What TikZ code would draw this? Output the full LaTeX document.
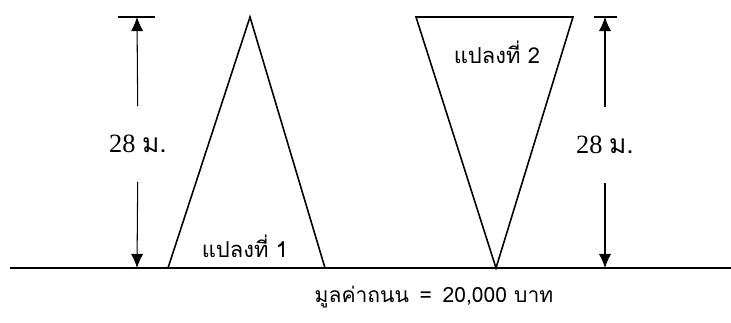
\documentclass[tikz,border=0pt]{standalone}
\usepackage{fontspec}
\setmainfont{Liberation Serif}
\newfontfamily\thaifont[Script=Thai]{Loma}
\usetikzlibrary{arrows.meta}
\tikzset{
    dimline/.style={-{Latex[length=8pt,width=7pt]}, semithick},
    plot/.style={line width=0.9pt},
    hlabel/.style={font=\fontsize{15}{17}\selectfont, minimum height=1.5cm, inner sep=0pt}
}
\begin{document}
\begin{tikzpicture}[x=0.02cm,y=-0.02cm]
        \useasboundingbox (0,0) rectangle (731,323);
        \coordinate (gl) at (10,268);
        \coordinate (gr) at (731,268);
        \draw [plot] (gl) -- (gr);
        \coordinate (a1) at (250,17);
        \coordinate (b1) at (168,268);
        \coordinate (c1) at (325,268);
        \draw [plot] (b1) -- (a1) -- (c1);
        \node (p1) at (245,246) {\fontsize{12.5}{15}\selectfont\thaifont แปลงที่ 1};
        \coordinate (a2) at (416,17);
        \coordinate (b2) at (573,17);
        \coordinate (c2) at (496,268);
        \draw [plot] (a2) -- (b2) -- (c2) -- cycle;
        \node (p2) at (497,52) {\fontsize{12.5}{15}\selectfont\thaifont แปลงที่ 2};
        \draw [semithick] (118,17) -- (155,17);
        \coordinate (t1) at (137,17);
        \coordinate (u1) at (137,268);
        \node [hlabel] (h1) at (138,144) {28 {\thaifont ม.}};
        \draw [dimline] (h1) -- (t1);
        \draw [dimline] (h1) -- (u1);
        \draw [semithick] (594,17) -- (617,17);
        \coordinate (t2) at (605,17);
        \coordinate (u2) at (605,268);
        \node [hlabel] (h2) at (605,145) {28 {\thaifont ม.}};
        \draw [dimline] (h2) -- (t2);
        \draw [dimline] (h2) -- (u2);
        \node (road) at (434,297) {\fontsize{12}{14}\selectfont\thaifont มูลค่าถนน \,=\, 20,000 บาท};
\end{tikzpicture}
\end{document}
